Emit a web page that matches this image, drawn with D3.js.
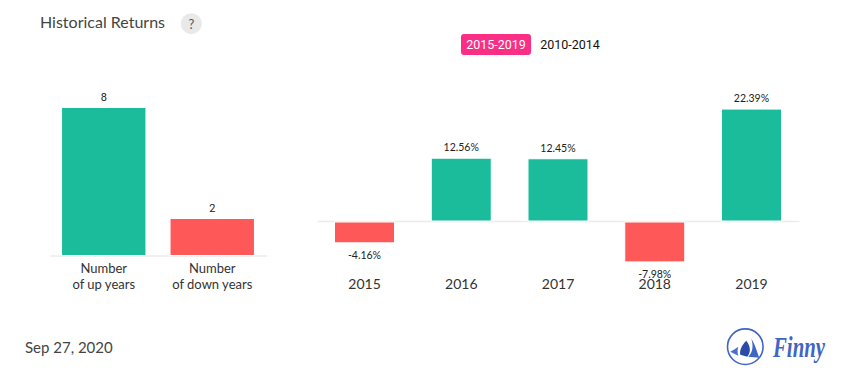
<!DOCTYPE html>
<html>
<head>
<meta charset="utf-8">
<script src="https://cdnjs.cloudflare.com/ajax/libs/d3/7.8.5/d3.min.js"></script>
<style>
	html, body { margin: 0; padding: 0; background: #fff; }
	svg { display: block; font-family: Lato, sans-serif; }
</style>
</head>
<body>
<svg id="chart" width="855" height="382"></svg>
<script>
const count_keys = ['up', 'down'];
const count_values = [8, 2];
const count_labels = [['Number', 'of up years'], ['Number', 'of down years']];

const years = ['2015', '2016', '2017', '2018', '2019'];
const returns = [-4.16, 12.56, 12.45, -7.98, 22.39];
const return_labels = ['-4.16%', '12.56%', '12.45%', '-7.98%', '22.39%'];

const range_options = ['2015-2019', '2010-2014'];

const green = '#1abc9c';
const red = '#ff5858';
const axis_color = '#ececec';

const svg = d3.select('#chart');

// header
svg.append('text').attr('x', 40).attr('y', 28)
	.attr('font-size', 16).attr('fill', '#444').text('Historical Returns');
svg.append('circle').attr('cx', 191.3).attr('cy', 23.7).attr('r', 10.5).attr('fill', '#e9e9e9');
svg.append('text').attr('x', 191.3).attr('y', 28.5).attr('text-anchor', 'middle')
	.attr('font-size', 13).attr('fill', '#555').text('?');

// range switch
svg.append('rect').attr('x', 461).attr('y', 34).attr('width', 70).attr('height', 21).attr('rx', 3).attr('fill', '#fb2e86');
svg.append('text').attr('x', 496).attr('y', 49).attr('text-anchor', 'middle')
	.attr('font-size', 12.5).attr('fill', '#fff').attr('font-family', 'Roboto, sans-serif').text(range_options[0]);
svg.append('text').attr('x', 570).attr('y', 49).attr('text-anchor', 'middle')
	.attr('font-size', 12.5).attr('fill', '#111').attr('font-family', 'Roboto, sans-serif').text(range_options[1]);

// left chart, count of years
const x_left = d3.scaleBand().domain(count_keys).range([49.5, 266.5]).paddingInner(0.222).paddingOuter(0.111);
const y_left = d3.scaleLinear().domain([0, 8]).range([255.5, 107.5]);

const axis_left = svg.append('g').attr('transform', 'translate(0,255.5)')
	.call(d3.axisBottom(x_left).tickSize(0).tickFormat(''));
axis_left.select('.domain').attr('stroke', axis_color).attr('stroke-width', 1.5);

svg.append('g').selectAll('rect').data(count_values).join('rect')
	.attr('x', (d, i) => x_left(count_keys[i]))
	.attr('y', d => y_left(d))
	.attr('width', x_left.bandwidth())
	.attr('height', d => y_left(0) - y_left(d))
	.attr('fill', (d, i) => i == 0 ? green : red)
	.attr('stroke', '#fff').attr('stroke-width', 1);

svg.append('g').selectAll('text').data(count_values).join('text')
	.attr('x', (d, i) => x_left(count_keys[i]) + x_left.bandwidth() / 2)
	.attr('y', d => y_left(d) - 6.5)
	.attr('text-anchor', 'middle').attr('font-size', 11)
	.attr('font-family', 'Roboto, sans-serif').attr('fill', '#222')
	.text(d => d);

count_labels.forEach((lines, i) => {
	const label = svg.append('text').attr('text-anchor', 'middle').attr('font-size', 13).attr('fill', '#333');
	lines.forEach((line, j) => {
		label.append('tspan')
			.attr('x', x_left(count_keys[i]) + x_left.bandwidth() / 2)
			.attr('y', 273 + j * 16)
			.text(line);
	});
});

// right chart, return per year
const x_right = d3.scaleBand().domain(years).range([317, 799]).paddingInner(0.38).paddingOuter(0.181);
const y_right = d3.scaleLinear().domain([-10, 25]).range([271, 96]);

const axis_right = svg.append('g').attr('transform', 'translate(0,' + y_right(0) + ')')
	.call(d3.axisBottom(x_right).tickSize(0).tickPadding(0));
axis_right.select('.domain').attr('stroke', axis_color).attr('stroke-width', 1.5);
axis_right.selectAll('.tick text')
	.attr('y', 68).attr('dy', 0)
	.attr('font-family', 'Lato, sans-serif').attr('font-size', 14).attr('fill', '#333');

svg.append('g').selectAll('rect').data(returns).join('rect')
	.attr('x', (d, i) => x_right(years[i]))
	.attr('y', d => d > 0 ? y_right(d) : y_right(0) + 1)
	.attr('width', x_right.bandwidth())
	.attr('height', d => Math.abs(y_right(d) - y_right(0)))
	.attr('fill', d => d > 0 ? green : red)
	.attr('stroke', '#fff').attr('stroke-width', 1);

svg.append('g').selectAll('text').data(returns).join('text')
	.attr('x', (d, i) => x_right(years[i]) + x_right.bandwidth() / 2)
	.attr('y', d => d > 0 ? y_right(d) - 7 : y_right(d) + 17)
	.attr('text-anchor', 'middle').attr('font-size', 10.5).attr('fill', '#222')
	.text((d, i) => return_labels[i]);

// footer
svg.append('text').attr('x', 25).attr('y', 353)
	.attr('font-size', 15).attr('fill', '#444').text('Sep 27, 2020');

// logo
const logo = svg.append('g').attr('transform', 'translate(745.3,346.7)');
logo.append('circle').attr('r', 17.8).attr('fill', 'none').attr('stroke', '#3f66c4').attr('stroke-width', 1.6);
logo.append('path').attr('fill', '#3f66c4')
	.attr('d', 'M6 -8 C10 -2 12 6 14 11 L3 10 C8 5 8 -2 6 -8 Z');
logo.append('path').attr('fill', '#2a4ba8')
	.attr('d', 'M1 -6 C-4 -1 -6 4 -5 8 L2 10 C6 5 5 -1 1 -6 Z');
logo.append('path').attr('fill', '#4a6fca')
	.attr('d', 'M-7 0 C-10 2 -13 4 -15 5 L-7 9 C-8 6 -8 3 -7 0 Z');
svg.append('text').attr('x', 773).attr('y', 357)
	.attr('font-family', '"Liberation Serif", serif').attr('font-style', 'italic').attr('font-weight', 700)
	.attr('font-size', 30).attr('fill', '#3f66c4')
	.attr('textLength', 52).attr('lengthAdjust', 'spacingAndGlyphs').text('Finny');
</script>
</body>
</html>
